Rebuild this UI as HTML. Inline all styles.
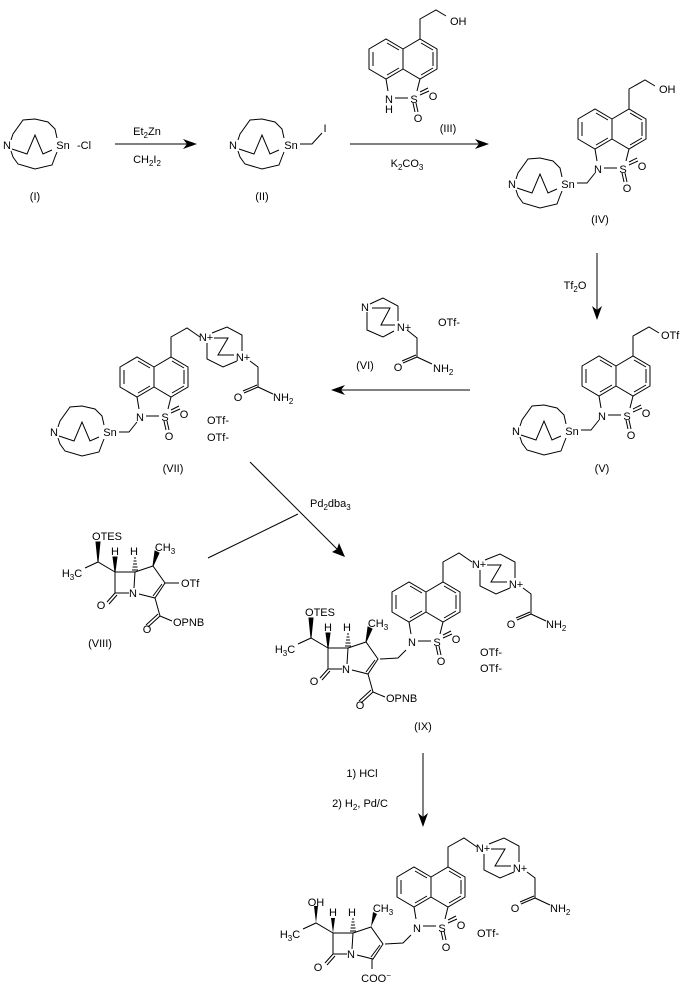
<!DOCTYPE html>
<html><head><meta charset="utf-8"><style>
html,body{margin:0;padding:0;background:#fff;}
svg{display:block;}
text{font-family:"Liberation Sans",Arial,sans-serif;font-size:11px;fill:#000;}
.m{text-anchor:middle;}
</style></head><body>
<svg width="687" height="994" viewBox="0 0 687 994" xmlns="http://www.w3.org/2000/svg">
<defs>
<g id="naph" fill="none" stroke="#000" stroke-width="1">
<path d="M0,0 L-17,-10 L-34,0 L-34,20 L-17,30 L0,20 Z M0,0 L17,-10 L34,0 L34,20 L17,30 L0,20"/>
<path d="M-30,3 L-30,17 M-16,-6 L-4,1 M-16,26 L-4,19 M18,-6 L30,1 M30,3 L30,17 M18,26 L30,19"/>
<path d="M-17,30 L-15,42 M17,30 L14,42 M-8,49 L5,49 M17,46 L26,42 M17,43 L25,39 M10,54 L12,63 M13,54 L15,63"/>
</g>
<g id="cage" fill="none" stroke="#000" stroke-width="1">
<path d="M-24,-4 L-22,-10 L-12,-24 L0,-25 L13,-22 L20,-15 L22,-6 M-24,7 L-22,13 L-17,20 L0,25 L17,21 L20,13 L22,8 M-23,5 L-8,10 L0,-9 L8,10 L17,6"/>
</g>
<g id="dabco" fill="none" stroke="#000" stroke-width="1">
<path d="M7,-4 L22,-10 L37,-2 L37,14 M32,24 L18,30 L2,22 L2,6 M9,1 L23,1 L13,18 L29,18"/>
<path d="M45,24 L53,30 L53,50 L68,57 M53,50 L39,56 M52,48 L38,54"/>
</g>
<g id="carb" fill="none" stroke="#000" stroke-width="1">
<path d="M0,0 L20,0 L19,16 M14,21 L0,21 L0,0 M20,0 L38,-6 L50,11 L40,26 L24,22 M47,12 L38,24 M0,21 L-8,30 M2,23 L-6,32 M-30,-4 L-17,-10 L0,0 M40,26 L45,44 M45,44 L33,55 M43,42 L31,53 M45,44 L57,49"/>
<polygon points="-17,-10 -19,-30 -15,-30" fill="#000"/>
<polygon points="0,0 -2,-15 2,-15" fill="#000"/>
<polygon points="38,-6 40,-21 44,-19" fill="#000"/>
<path d="M19,-14 L21,-14 M18.5,-11 L21.5,-11 M18,-8 L22,-8 M17.5,-5 L22.5,-5 M17,-2 L23,-2"/>
</g>
</defs>

<g fill="none" stroke="#000" stroke-width="1">
<!-- arrows -->
<line x1="115" y1="144" x2="190" y2="144"/>
<line x1="350" y1="144" x2="482" y2="144"/>
<line x1="597" y1="253" x2="597" y2="313"/>
<line x1="338" y1="390" x2="470" y2="390"/>
<line x1="250" y1="462" x2="340" y2="552"/>
<line x1="208" y1="558" x2="298" y2="514"/>
<line x1="423" y1="753" x2="423" y2="820"/>
<!-- chains -->
<path d="M420,39 L420,19 L436,10 L446,16"/>
<path d="M629,109 L629,89 L645,80 L655,86"/>
<path d="M633,356 L633,336 L649,327 L659,333"/>
<path d="M171,357 L171,337 L187,328 L200,337"/>
<path d="M443,582 L443,562 L459,553 L472,562"/>
<path d="M448,867 L448,847 L464,838 L477,847"/>
<!-- Sn-Cl / CH2I -->
<path d="M300,144 L312,144 L322,133"/>
<path d="M577,183 L587,183 L595,173"/>
<path d="M581,430 L591,430 L599,420"/>
<path d="M119,432 L129,432 L137,422"/>
<path d="M380,659 L398,658 L406,650"/>
<path d="M385,944 L403,943 L411,935"/>
<path d="M372,959 L372,969"/>
</g>
<g fill="#000">
<polygon points="197,144 183,139 187,144 183,149"/>
<polygon points="489,144 475,139 479,144 475,149"/>
<polygon points="597,320 592,306 597,310 602,306"/>
<polygon points="331,390 345,385 341,390 345,395"/>
<polygon points="345,557 332,552 337,549 339,543"/>
<polygon points="423,827 418,813 423,817 428,813"/>
</g>

<!-- I -->
<use href="#cage" x="35" y="144"/>
<text x="7" y="149" class="m">N</text><text x="63" y="149" class="m">Sn</text>
<text x="84" y="149" class="m">-Cl</text>
<text x="35" y="200" class="m">(I)</text>
<text x="147" y="135" class="m">Et<tspan font-size="8" dy="3">2</tspan><tspan dy="-3">Zn</tspan></text>
<text x="147" y="163" class="m">CH<tspan font-size="8" dy="3">2</tspan><tspan dy="-3">I</tspan><tspan font-size="8" dy="3">2</tspan></text>
<!-- II -->
<use href="#cage" x="262" y="144"/>
<text x="233" y="149" class="m">N</text><text x="291" y="149" class="m">Sn</text>
<text x="325" y="132" class="m">I</text>
<text x="262" y="200" class="m">(II)</text>
<text x="407" y="167" class="m">K<tspan font-size="8" dy="3">2</tspan><tspan dy="-3">CO</tspan><tspan font-size="8" dy="3">3</tspan></text>
<!-- III -->
<use href="#naph" x="403" y="49"/>
<text x="389" y="103" class="m">N</text><text x="389" y="113" class="m">H</text>
<text x="414" y="103" class="m">S</text><text x="433" y="100" class="m">O</text><text x="418" y="122" class="m">O</text>
<text x="450" y="25">OH</text>
<text x="448" y="132" class="m">(III)</text>
<!-- IV -->
<use href="#naph" x="612" y="119"/>
<use href="#cage" x="540" y="183"/>
<text x="512" y="188" class="m">N</text><text x="568" y="188" class="m">Sn</text>
<text x="598" y="173" class="m">N</text><text x="623" y="173" class="m">S</text><text x="642" y="170" class="m">O</text><text x="627" y="192" class="m">O</text>
<text x="659" y="93">OH</text>
<text x="600" y="223" class="m">(IV)</text>
<text x="575" y="289" class="m">Tf<tspan font-size="8" dy="3">2</tspan><tspan dy="-3">O</tspan></text>
<!-- V -->
<use href="#naph" x="616" y="366"/>
<use href="#cage" x="544" y="430"/>
<text x="516" y="435" class="m">N</text><text x="572" y="435" class="m">Sn</text>
<text x="602" y="420" class="m">N</text><text x="627" y="420" class="m">S</text><text x="646" y="417" class="m">O</text><text x="631" y="439" class="m">O</text>
<text x="661" y="339">OTf</text>
<text x="602" y="472" class="m">(V)</text>
<!-- VI -->
<g fill="none" stroke="#000" stroke-width="1">
<path d="M370,304 L383,298 L398,306 L398,321 M394,331 L383,337 L367,330 L367,312 M372,308 L390,308 L381,325 L395,325"/>
<path d="M407,330 L417,338 L417,357 L432,364 M417,357 L403,363 M416,355 L402,361"/>
</g>
<text x="365" y="311" class="m">N</text><text x="404" y="331" class="m">N+</text>
<text x="438" y="326">OTf-</text>
<text x="398" y="371" class="m">O</text>
<text x="433" y="372">NH<tspan font-size="8" dy="3">2</tspan></text>
<text x="365" y="369" class="m">(VI)</text>
<!-- VII -->
<use href="#naph" x="154" y="367"/>
<use href="#cage" x="82" y="431"/>
<text x="54" y="436" class="m">N</text><text x="110" y="436" class="m">Sn</text>
<text x="140" y="421" class="m">N</text><text x="165" y="421" class="m">S</text><text x="184" y="418" class="m">O</text><text x="169" y="440" class="m">O</text>
<use href="#dabco" x="205" y="337"/>
<text x="206" y="341" class="m">N+</text><text x="243" y="361" class="m">N+</text>
<text x="238" y="401" class="m">O</text>
<text x="273" y="401">NH<tspan font-size="8" dy="3">2</tspan></text>
<text x="207" y="424">OTf-</text><text x="207" y="441">OTf-</text>
<text x="173" y="472" class="m">(VII)</text>
<text x="310" y="507">Pd<tspan font-size="8" dy="3">2</tspan><tspan dy="-3">dba</tspan><tspan font-size="8" dy="3">3</tspan></text>
<!-- VIII -->
<use href="#carb" x="115" y="572"/>
<text x="107" y="540" class="m">OTES</text>
<text x="72" y="577" class="m">H<tspan font-size="8" dy="3">3</tspan><tspan dy="-3">C</tspan></text>
<text x="115" y="555" class="m">H</text><text x="134" y="555" class="m">H</text>
<text x="165" y="551" class="m">CH<tspan font-size="8" dy="3">3</tspan></text>
<text x="133" y="597" class="m">N</text>
<path d="M165,583 L179,583" stroke="#000"/>
<text x="181" y="587">OTf</text>
<text x="101" y="609" class="m">O</text>
<text x="147" y="633" class="m">O</text>
<text x="173" y="626">OPNB</text>
<text x="100" y="647" class="m">(VIII)</text>
<!-- IX -->
<use href="#naph" x="426" y="592"/>
<use href="#carb" x="328" y="648"/>
<text x="412" y="646" class="m">N</text><text x="437" y="646" class="m">S</text><text x="456" y="643" class="m">O</text><text x="441" y="665" class="m">O</text>
<use href="#dabco" x="478" y="564"/>
<text x="479" y="568" class="m">N+</text><text x="516" y="588" class="m">N+</text>
<text x="511" y="628" class="m">O</text>
<text x="546" y="628">NH<tspan font-size="8" dy="3">2</tspan></text>
<text x="480" y="656">OTf-</text><text x="480" y="672">OTf-</text>
<text x="320" y="616" class="m">OTES</text>
<text x="285" y="653" class="m">H<tspan font-size="8" dy="3">3</tspan><tspan dy="-3">C</tspan></text>
<text x="328" y="631" class="m">H</text><text x="347" y="631" class="m">H</text>
<text x="378" y="627" class="m">CH<tspan font-size="8" dy="3">3</tspan></text>
<text x="346" y="673" class="m">N</text>
<text x="314" y="685" class="m">O</text>
<text x="360" y="709" class="m">O</text>
<text x="386" y="702">OPNB</text>
<text x="423" y="730" class="m">(IX)</text>
<text x="362" y="777" class="m">1) HCl</text>
<text x="360" y="807" class="m">2) H<tspan font-size="8" dy="3">2</tspan><tspan dy="-3">, Pd/C</tspan></text>
<!-- X -->
<use href="#naph" x="431" y="877"/>
<g transform="translate(333,933)" fill="none" stroke="#000" stroke-width="1">
<path d="M0,0 L20,0 L19,16 M14,21 L0,21 L0,0 M20,0 L38,-6 L50,11 L40,26 L24,22 M47,12 L38,24 M0,21 L-8,30 M2,23 L-6,32 M-30,-4 L-17,-10 L0,0"/>
<polygon points="-17,-10 -19,-27 -15,-27" fill="#000" stroke="none"/>
<polygon points="0,0 -2,-15 2,-15" fill="#000" stroke="none"/>
<polygon points="38,-6 40,-21 44,-19" fill="#000" stroke="none"/>
<path d="M19,-14 L21,-14 M18.5,-11 L21.5,-11 M18,-8 L22,-8 M17.5,-5 L22.5,-5 M17,-2 L23,-2"/>
</g>
<text x="417" y="932" class="m">N</text><text x="442" y="932" class="m">S</text><text x="461" y="929" class="m">O</text><text x="446" y="951" class="m">O</text>
<use href="#dabco" x="482" y="848"/>
<text x="483" y="852" class="m">N+</text><text x="520" y="872" class="m">N+</text>
<text x="515" y="912" class="m">O</text>
<text x="550" y="912">NH<tspan font-size="8" dy="3">2</tspan></text>
<text x="477" y="937">OTf-</text>
<text x="316" y="906" class="m">OH</text>
<text x="290" y="938" class="m">H<tspan font-size="8" dy="3">3</tspan><tspan dy="-3">C</tspan></text>
<text x="333" y="916" class="m">H</text><text x="352" y="916" class="m">H</text>
<text x="383" y="912" class="m">CH<tspan font-size="8" dy="3">3</tspan></text>
<text x="351" y="958" class="m">N</text>
<text x="318" y="971" class="m">O</text>
<text x="376" y="982" class="m">COO<tspan font-size="8" dy="-4">−</tspan></text>
</svg>
</body></html>
